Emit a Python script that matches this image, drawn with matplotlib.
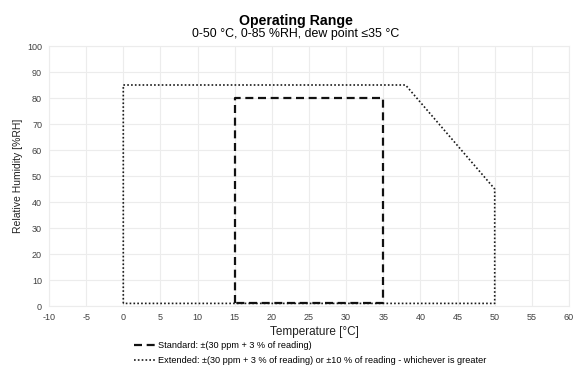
import matplotlib
matplotlib.use("Agg")
import matplotlib.pyplot as plt

plt.rcParams['font.family'] = ['Liberation Sans', 'DejaVu Sans']
plt.rcParams['axes.unicode_minus'] = False

std_t = [15, 15, 35, 35, 15]
std_rh = [1, 80, 80, 1, 1]
ext_t = [0, 0, 38, 50, 50, 0]
ext_rh = [1, 85, 85, 45, 1, 1]

std_label = "Standard: ±(30 ppm + 3 % of reading)"
ext_label = "Extended: ±(30 ppm + 3 % of reading) or ±10 % of reading - whichever is greater"

fig = plt.figure(figsize=(5.77, 3.67), dpi=100)
ax = fig.add_axes([49/577, 1-306/367, 520/577, 260/367])

l2, = ax.plot(ext_t, ext_rh, color='#1a1a1a', lw=1.2, linestyle=(0, (1, 1.3)), label=ext_label)
l1, = ax.plot(std_t, std_rh, color='#111111', lw=1.6, linestyle=(0, (3.6, 2.1)), label=std_label)

ax.set_xlim(-10, 60)
ax.set_ylim(0, 100)
ax.set_xticks(range(-10, 61, 5))
ax.set_yticks(range(0, 101, 10))
ax.grid(True, color='#ececec', lw=0.8)
ax.set_axisbelow(True)
for s in ax.spines.values():
    s.set_color('#ececec')
    s.set_linewidth(0.8)
ax.tick_params(length=0, labelsize=6.5, labelcolor='#404040')
ax.tick_params(axis='x', pad=5)
ax.tick_params(axis='y', pad=5)
ax.set_xlabel("Temperature [°C]", fontsize=8.5, color='#222222')
ax.xaxis.label.set_va('center')
ax.xaxis.set_label_coords(0.51, (306-332)/260)
ax.set_ylabel("Relative Humidity [%RH]", fontsize=7.5, color='#222222')
ax.yaxis.label.set_va('center')
ax.yaxis.set_label_coords(-(49-18)/520, 0.5)

fig.text(296/577, 1-21/367, "Operating Range", ha='center', va='center', fontsize=10.2, fontweight='bold')
fig.text(296/577, 1-34/367, "0-50 °C, 0-85 %RH, dew point ≤35 °C", ha='center', va='center', fontsize=8.9)

fig.legend(handles=[l1, l2], loc='upper left', bbox_to_anchor=(134/577, 1-341/367), frameon=False,
           fontsize=6.6, handlelength=2.25, handletextpad=0.35, labelspacing=0.63, borderpad=0,
           borderaxespad=0)

fig.savefig("out.png", dpi=100)
